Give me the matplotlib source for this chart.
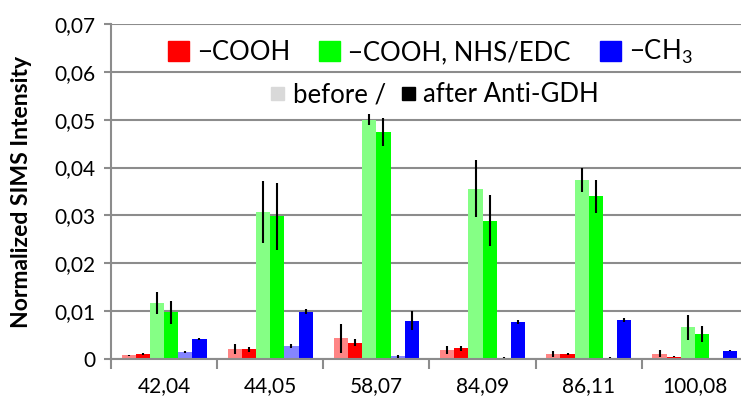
import numpy as np
import matplotlib
matplotlib.use("Agg")
import matplotlib.pyplot as plt
from matplotlib.patches import Patch

plt.rcParams['font.family'] = ['Lato', 'DejaVu Sans']
plt.rcParams['mathtext.default'] = 'regular'

# peak masses (m/z)
masses = ["42,04", "44,05", "58,07", "84,09", "86,11", "100,08"]

# normalized SIMS intensities, before / after Anti-GDH
cooh_before = [0.0008, 0.0021, 0.0043, 0.0019, 0.0010, 0.0011]
cooh_before_err = [0.0001, 0.0010, 0.0030, 0.0008, 0.0006, 0.0007]
cooh_after = [0.0010, 0.0020, 0.0034, 0.0022, 0.0010, 0.0005]
cooh_after_err = [0.0002, 0.0005, 0.0007, 0.0005, 0.0002, 0.0001]

nhs_before = [0.0116, 0.0307, 0.0500, 0.0356, 0.0375, 0.0066]
nhs_before_err = [0.0023, 0.0065, 0.0011, 0.0060, 0.0025, 0.0026]
nhs_after = [0.0098, 0.0298, 0.0475, 0.0289, 0.0340, 0.0052]
nhs_after_err = [0.0024, 0.0070, 0.0029, 0.0053, 0.0035, 0.0017]

ch3_before = [0.0014, 0.0027, 0.0006, 0.0003, 0.0003, 0.0001]
ch3_before_err = [0.0002, 0.0004, 0.0003, 0.0001, 0.0001, 0.0000]
ch3_after = [0.0042, 0.0099, 0.0080, 0.0078, 0.0081, 0.0017]
ch3_after_err = [0.0002, 0.0005, 0.0020, 0.0004, 0.0004, 0.0001]

series = [
    (cooh_before, cooh_before_err, "#ff8585"),
    (cooh_after, cooh_after_err, "#ff0000"),
    (nhs_before, nhs_before_err, "#85ff85"),
    (nhs_after, nhs_after_err, "#00ff00"),
    (ch3_before, ch3_before_err, "#8585ff"),
    (ch3_after, ch3_after_err, "#0000ff"),
]

grey = "#8c8c8c"

fig = plt.figure(figsize=(7.41, 4.01), dpi=100)
ax = fig.add_axes([111 / 741, 1 - 359 / 401, 637 / 741, 335 / 401])

x = np.arange(len(masses))
w = 0.8 / 6
for i, (vals, errs, col) in enumerate(series):
    pos = x + (i - 2.5) * w
    ax.bar(pos, vals, width=w, color=col, zorder=2)
    ax.errorbar(pos, vals, yerr=errs, fmt='none', ecolor='black',
                elinewidth=1.5, capsize=0, zorder=3)

ax.set_xlim(-0.5, len(masses) - 0.5)
ax.set_ylim(0, 0.07)

yt = np.arange(0, 0.0701, 0.01)
ax.set_yticks(yt)
ax.set_yticklabels(["0"] + ["0,%02d" % k for k in range(1, 8)])
ax.yaxis.grid(True, color=grey, lw=1.5, zorder=0)
ax.set_axisbelow(True)

ax.set_xticks(x)
ax.set_xticklabels(masses)
ax.set_xticks(np.arange(-0.5, len(masses)), minor=True)
ax.tick_params(axis='x', which='major', length=0, pad=12, labelsize=15)
ax.tick_params(axis='x', which='minor', length=7, width=1.5, color=grey)
ax.tick_params(axis='y', length=5, width=1.5, color=grey, pad=6, labelsize=15)

for s in ['top', 'right']:
    ax.spines[s].set_visible(False)
for s in ['left', 'bottom']:
    ax.spines[s].set_color(grey)
    ax.spines[s].set_linewidth(1.5)

ax.set_ylabel("Normalized SIMS Intensity", fontsize=16.5, fontweight='bold')
ax.yaxis.set_label_coords(-0.124, 0.5)

h1 = [Patch(color="#ff0000"), Patch(color="#00ff00"), Patch(color="#0000ff")]
leg1 = fig.legend(h1, ["\u2212COOH", "\u2212COOH, NHS/EDC", "\u2212CH$_3$"],
                  loc='center', bbox_to_anchor=(430 / 741, 1 - 52 / 401),
                  ncol=3, frameon=False, fontsize=18.5,
                  handlelength=0.82, handleheight=0.82,
                  handletextpad=0.31, columnspacing=1.13, borderpad=0)

h2 = [Patch(color="#d9d9d9"), Patch(color="black")]
leg2 = fig.legend(h2, ["before /", "after Anti-GDH"],
                  loc='center', bbox_to_anchor=(435 / 741, 1 - 95 / 401),
                  ncol=2, frameon=False, fontsize=18.5,
                  handlelength=0.5, handleheight=0.39,
                  handletextpad=0.35, columnspacing=0.62, borderpad=0)

fig.savefig("out.png", dpi=100)
